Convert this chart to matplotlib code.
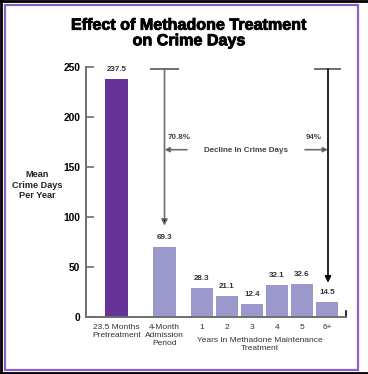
import matplotlib.pyplot as plt
import matplotlib.patheffects as pe
from matplotlib.patches import Rectangle
from matplotlib.lines import Line2D

plt.rcParams['font.family'] = ['Liberation Sans', 'DejaVu Sans']

# data
categories = ['23.5 Months\nPretreatment', '4-Month\nAdmission\nPeriod',
              '1', '2', '3', '4', '5', '6+']
values = [237.5, 69.3, 28.3, 21.1, 12.4, 32.1, 32.6, 14.5]
positions = [-3.42, -1.5, 0, 1, 2, 3, 4, 5]
yticks = [0, 50, 100, 150, 200, 250]

DARK = '#663399'
LIGHT = '#9b99cc'
FRAME = '#8c5fc9'
GREY = '#6e6e6e'

fig = plt.figure(figsize=(3.68, 3.74), dpi=100)
ax = fig.add_axes([86/368, 57.3/374, 260/368, 250/374])

colors = [DARK] + [LIGHT] * (len(values) - 1)
ax.bar(positions, values, width=0.9, color=colors)

for x, v in zip(positions, values):
    ax.text(x, v + 6, f'{v}', ha='center', va='bottom', fontsize=5.8,
            fontweight='bold', color='#333333')

ax.set_xlim(-4.64, 5.76)
ax.set_ylim(0, 250)
ax.set_yticks(yticks)
ax.set_yticklabels([str(t) for t in yticks], fontsize=7.4, fontweight='bold')
ax.tick_params(axis='y', direction='in', length=6, width=1.2, color=GREY, pad=4)
ax.set_xticks(positions)
ax.set_xticklabels(categories, fontsize=6, color='#333333', linespacing=1.2)
ax.tick_params(axis='x', length=0, pad=5)
for s in ['top', 'right']:
    ax.spines[s].set_visible(False)
for s in ['left', 'bottom']:
    ax.spines[s].set_color(GREY)
    ax.spines[s].set_linewidth(1.4)
# little end tick on x axis
ax.plot([5.76, 5.76], [0, 6], color='black', lw=1.2, clip_on=False)

ax.text(2.3, -20, 'Years In Methadone Maintenance\nTreatment', ha='center', va='top',
        fontsize=6, color='#333333', linespacing=1.3)

# decline arrows
cap_y = 247.5
ax.plot([-2.04, -0.96], [cap_y, cap_y], color=GREY, lw=1.4, clip_on=False)
ax.annotate('', xy=(-1.5, 91), xytext=(-1.5, cap_y),
            arrowprops=dict(arrowstyle='-|>', color=GREY, lw=1.2,
                            mutation_scale=9, shrinkA=0, shrinkB=0,
                            fc='black', ec=GREY))
ax.plot([4.5, 5.5], [cap_y, cap_y], color=GREY, lw=1.4, clip_on=False)
ax.annotate('', xy=(5.04, 34), xytext=(5.04, cap_y),
            arrowprops=dict(arrowstyle='-|>', color='black', lw=1.2,
                            mutation_scale=9, shrinkA=0, shrinkB=0))
ax.annotate('', xy=(-1.5, 167), xytext=(-0.6, 167),
            arrowprops=dict(arrowstyle='-|>', color=GREY, lw=1.2,
                            mutation_scale=7, shrinkA=0, shrinkB=0, fc='black'))
ax.annotate('', xy=(5.04, 167), xytext=(4.12, 167),
            arrowprops=dict(arrowstyle='-|>', color=GREY, lw=1.2,
                            mutation_scale=7, shrinkA=0, shrinkB=0, fc='black'))
ax.text(1.76, 166, 'Decline In Crime Days', ha='center', va='center',
        fontsize=5.8, fontweight='bold', color='#444444')
ax.text(-1.36, 179, '70.8%', ha='left', va='center', fontsize=5.8,
        fontweight='bold', color='#444444')
ax.text(4.8, 179, '94%', ha='right', va='center', fontsize=5.8,
        fontweight='bold', color='#444444')

fig.text(37/368, 1 - 185/374, 'Mean\nCrime Days\nPer Year', ha='center',
         va='center', fontsize=6.6, fontweight='bold', color='#222222',
         linespacing=1.2)
fig.text(189/368, 1 - 33/374, 'Effect of Methadone Treatment\non Crime Days',
         ha='center', va='center', fontsize=11.6, fontweight='bold',
         linespacing=1.05,
         path_effects=[pe.withStroke(linewidth=0.6, foreground='black')])

# frames
fig.add_artist(Rectangle((5/368, 1 - 369.5/374), 352.5/368, 364.5/374,
                         transform=fig.transFigure, fill=False, ec=FRAME, lw=1.6))
fig.add_artist(Line2D([0.003, 0.003], [0, 1], transform=fig.transFigure,
                      color='black', lw=2))
fig.add_artist(Line2D([0, 1], [0.997, 0.997], transform=fig.transFigure,
                      color='black', lw=2))
fig.add_artist(Line2D([0, 1], [0.004, 0.004], transform=fig.transFigure,
                      color='black', lw=2))

fig.savefig('out.png', dpi=100)
